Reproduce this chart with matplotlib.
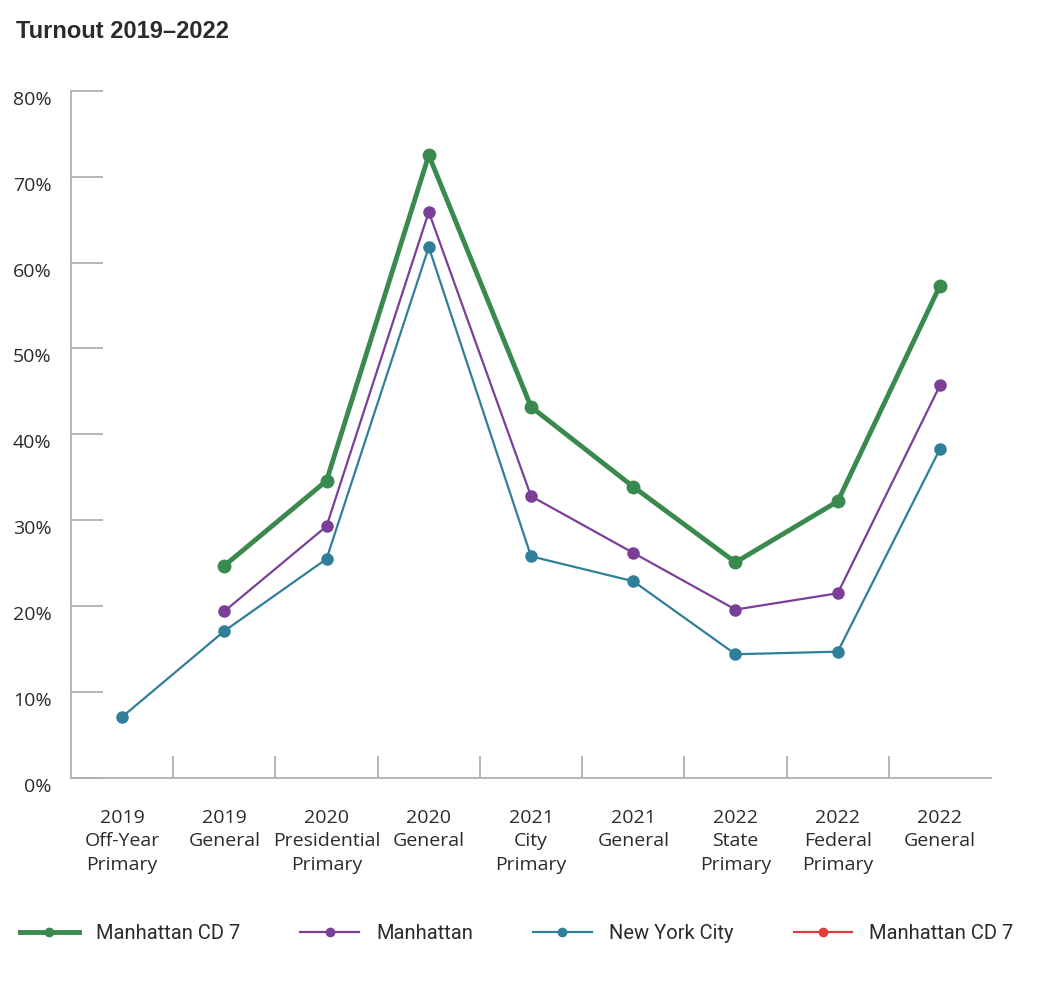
import numpy as np
import matplotlib
matplotlib.use("Agg")
import matplotlib.pyplot as plt
from matplotlib.ticker import FixedLocator, PercentFormatter

categories = ["2019\nOff-Year\nPrimary", "2019\nGeneral", "2020\nPresidential\nPrimary",
              "2020\nGeneral", "2021\nCity\nPrimary", "2021\nGeneral",
              "2022\nState\nPrimary", "2022\nFederal\nPrimary", "2022\nGeneral"]

cd7 = [np.nan, 24.7, 34.6, 72.5, 43.2, 33.9, 25.1, 32.2, 57.3]
manhattan = [np.nan, 19.4, 29.3, 65.9, 32.8, 26.2, 19.6, 21.5, 45.7]
nyc = [7.1, 17.1, 25.5, 61.8, 25.8, 22.9, 14.4, 14.7, 38.3]
cd7_red = []  # legend-only series in the original

green = "#3a8a4f"
purple = "#7b3f98"
teal = "#2f7f9a"
red = "#e03c3c"
axis_col = "#b0b0b0"
text_col = "#2b2b2b"

plt.rcParams["font.family"] = ["Open Sans", "DejaVu Sans"]

fig = plt.figure(figsize=(10.48, 9.86), dpi=100)
ax = fig.add_axes([0.0677, 0.211, 0.878, 0.697])

x = np.arange(len(categories))
ax.plot(x, nyc, color=teal, lw=1.6, marker="o", ms=8, label="New York City", zorder=3)
ax.plot(x, manhattan, color=purple, lw=1.6, marker="o", ms=8, label="Manhattan", zorder=4)
ax.plot(x, cd7, color=green, lw=3.5, marker="o", ms=9, label="Manhattan CD 7", zorder=5)
ax.plot([], cd7_red, color=red, lw=1.6, marker="o", ms=6, label="Manhattan CD 7")

ax.set_xlim(-0.5, len(categories) - 0.5)
ax.set_ylim(0, 80)

for s in ["top", "right"]:
    ax.spines[s].set_visible(False)
for s in ["left", "bottom"]:
    ax.spines[s].set_color(axis_col)
    ax.spines[s].set_linewidth(1.3)

ax.yaxis.set_major_locator(FixedLocator(np.arange(0, 81, 10)))
ax.yaxis.set_major_formatter(PercentFormatter(decimals=0))
ax.tick_params(axis="y", direction="in", length=23, width=1.3, color=axis_col,
               labelsize=14, labelcolor=text_col, pad=14)
for lbl in ax.get_yticklabels():
    lbl.set_va("top")

ax.set_xticks(x)
ax.set_xticklabels(categories, linespacing=1.42)
ax.set_xticks(np.arange(0.5, len(categories) - 1, 1), minor=True)
ax.tick_params(axis="x", which="major", length=0, labelsize=14, labelcolor=text_col, pad=22)
ax.tick_params(axis="x", which="minor", direction="in", length=16, width=1.3, color=axis_col)

fig.text(0.015, 0.968, "Turnout 2019\u20132022", fontsize=17, fontweight="bold",
         color=text_col, ha="left", va="center", family=["Liberation Sans", "DejaVu Sans"])

handles, labels = ax.get_legend_handles_labels()
order = [2, 1, 0, 3]
leg = fig.legend([handles[i] for i in order], [labels[i] for i in order],
                 loc="center left", bbox_to_anchor=(0.002, 0.053), ncol=4, frameon=False,
                 handlelength=2.9, columnspacing=3.0, handletextpad=0.85,
                 prop={"family": ["Roboto", "DejaVu Sans"], "size": 14.5})
for h in leg.legend_handles:
    h.set_markersize(6)
for t in leg.get_texts():
    t.set_color(text_col)

fig.savefig("out.png", dpi=100, facecolor="white")
